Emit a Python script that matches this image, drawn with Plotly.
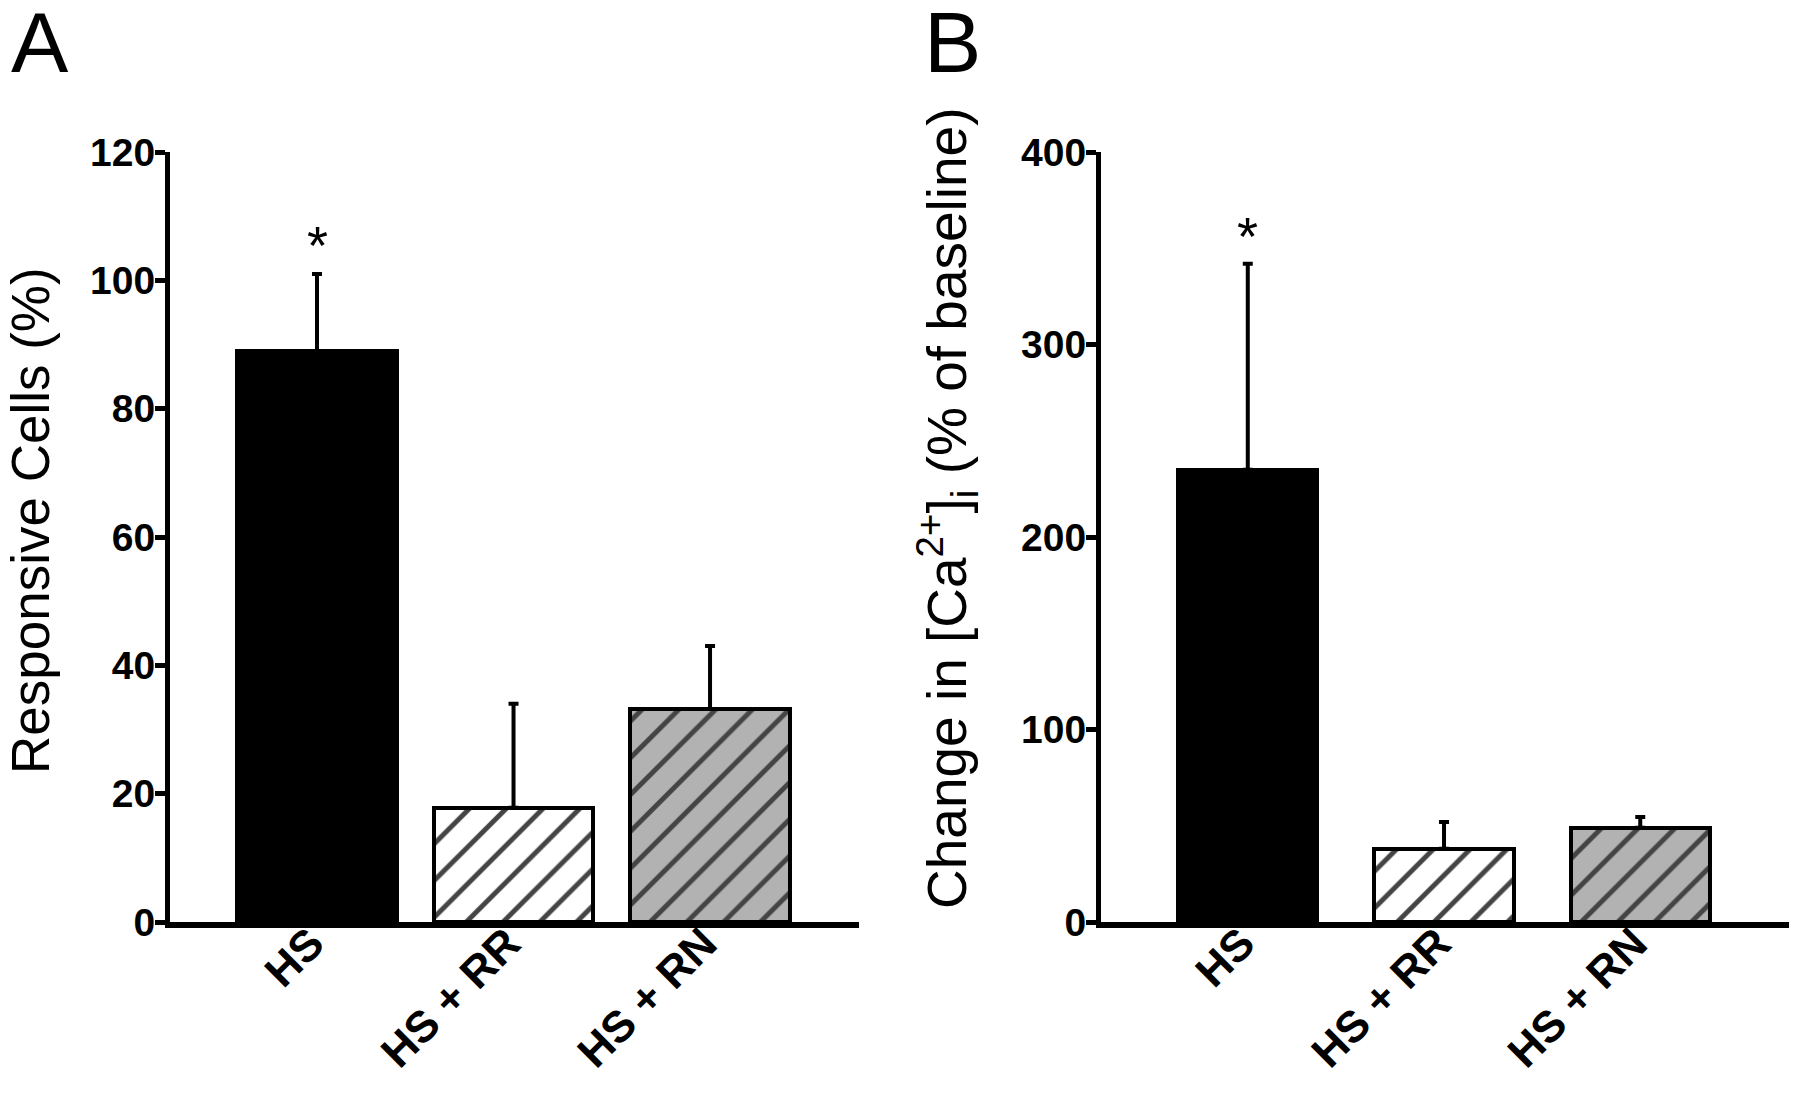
import plotly.graph_objects as go

# ---------------- data ----------------
categories = ["HS", "HS + RR", "HS + RN"]

# Panel A: Responsive cells (%)
resp_mean = [89.0, 17.8, 33.2]
resp_err_top = [101.0, 34.0, 43.0]

# Panel B: Change in [Ca2+]i (% of baseline)
ca_mean = [235.0, 38.0, 49.0]
ca_err_top = [342.0, 52.0, 54.5]

a_ticks = [0, 20, 40, 60, 80, 100, 120]
b_ticks = [0, 100, 200, 300, 400]

# ---------------- styles ----------------
FONT = "Liberation Sans, Arial, sans-serif"
fill_colors = ["black", "white", "#b2b2b2"]
pattern_shapes = ["", "/", "/"]

# the page body adds an 8 px margin, so the figure is 8 px smaller
OFF = 8
W, H = 1800 - OFF, 1097 - OFF


def px_x(p):
    return (p - OFF) / W


def px_y(p):
    return 1 - (p - OFF) / H


fig = go.Figure()


def add_bars(xaxis, yaxis, means, tops, width):
    plus = [t - m for t, m in zip(tops, means)]
    fig.add_trace(go.Bar(
        x=categories, y=means,
        xaxis=xaxis, yaxis=yaxis,
        width=width,
        marker=dict(
            color=fill_colors,
            line=dict(color="black", width=4),
            pattern=dict(shape=pattern_shapes,
                         fgcolor=["black"] * 3, fgopacity=1,
                         size=26, solidity=0.19,
                         fillmode="overlay"),
        ),
        error_y=dict(type="data", symmetric=False, array=plus,
                     arrayminus=[0] * len(plus), color="black",
                     thickness=4, width=5),
        showlegend=False,
        hoverinfo="skip",
    ))


add_bars("x", "y", resp_mean, resp_err_top, 0.81)
add_bars("x2", "y2", ca_mean, ca_err_top, 0.71)

ydom = [px_y(922), px_y(152)]
xrange_ = [-0.748, 2.758]

common_x = dict(
    type="category", range=xrange_, showline=True, linecolor="black",
    linewidth=6, ticks="", showgrid=False, zeroline=False,
    tickangle=-45, automargin=False, ticklabelstandoff=-28,
    ticklabelshift=-6,
    tickfont=dict(family=FONT, size=44, color="black", weight="bold"),
)
common_y = dict(
    showline=True, linecolor="black", linewidth=5, ticks="outside",
    ticklen=10, tickwidth=5, tickcolor="black", showgrid=False,
    zeroline=False, automargin=False, ticklabelstandoff=-8,
    tickfont=dict(family=FONT, size=39, color="black", weight="bold"),
)

fig.update_layout(
    width=W, height=H,
    margin=dict(l=0, r=0, t=0, b=0),
    paper_bgcolor="white", plot_bgcolor="white",
    bargap=0,
    xaxis=dict(domain=[px_x(170), px_x(859)], anchor="y", **common_x),
    yaxis=dict(domain=ydom, anchor="x", range=[0, 120], tickvals=a_ticks,
               **common_y),
    xaxis2=dict(domain=[px_x(1101), px_x(1789)], anchor="y2", **common_x),
    yaxis2=dict(domain=ydom, anchor="x2", range=[0, 400], tickvals=b_ticks,
                **common_y),
)

annotations = [
    # panel letters
    dict(text="A", xref="paper", yref="paper", x=px_x(40), y=px_y(42),
         xanchor="center", yanchor="middle", showarrow=False,
         font=dict(family=FONT, size=86, color="black")),
    dict(text="B", xref="paper", yref="paper", x=px_x(952), y=px_y(42),
         xanchor="center", yanchor="middle", showarrow=False,
         font=dict(family=FONT, size=86, color="black")),
    # axis titles
    dict(text="Responsive Cells (%)", xref="paper", yref="paper",
         x=px_x(30), y=px_y(521), xanchor="center", yanchor="middle",
         textangle=-90, showarrow=False,
         font=dict(family=FONT, size=53, color="black")),
    dict(text="Change in [Ca<sup>2+</sup>]<sub>i</sub> (% of baseline)",
         xref="paper", yref="paper",
         x=px_x(947), y=px_y(508), xanchor="center", yanchor="middle",
         textangle=-90, showarrow=False,
         font=dict(family=FONT, size=55, color="black")),
    # significance markers
    dict(text="*", xref="x", yref="y", x=categories[0], y=resp_err_top[0],
         yanchor="bottom", yshift=-3, showarrow=False,
         font=dict(family=FONT, size=54, color="black")),
    dict(text="*", xref="x2", yref="y2", x=categories[0], y=ca_err_top[0],
         yanchor="bottom", yshift=-4, showarrow=False,
         font=dict(family=FONT, size=54, color="black")),
]
fig.update_layout(annotations=annotations)

fig.write_html("out.html")
